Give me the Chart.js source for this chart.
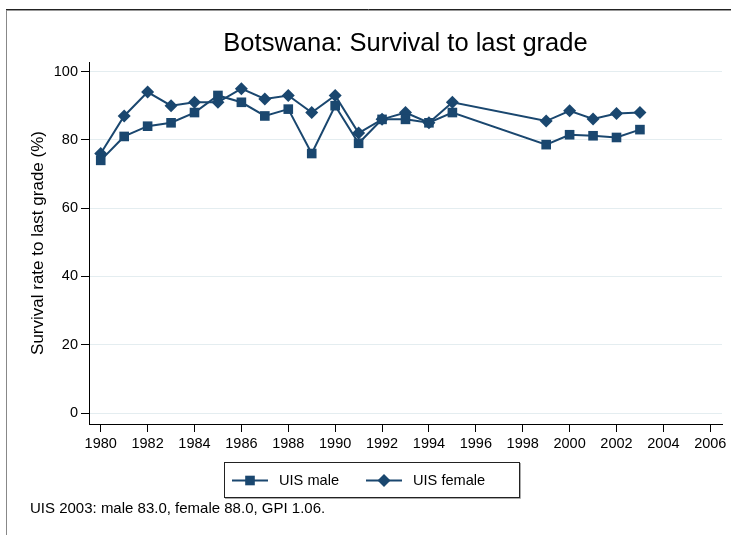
<!DOCTYPE html>
<html>
<head>
<meta charset="utf-8">
<script src="https://cdn.jsdelivr.net/npm/chart.js@4/dist/chart.umd.min.js"></script>
<style>
  html, body { margin: 0; padding: 0; background: #fff; }
  #wrap { width: 731px; height: 535px; }
</style>
</head>
<body>
<div id="wrap"><canvas id="chart" width="731" height="535"></canvas></div>
<script>
const years = [1980, 1981, 1982, 1983, 1984, 1985, 1986, 1987, 1988, 1989, 1990, 1991, 1992, 1993, 1994, 1995, 1999, 2000, 2001, 2002, 2003];
const maleValues = [74, 81, 84, 85, 88, 93, 91, 87, 89, 76, 90, 79, 86, 86, 85, 88, 78.6, 81.5, 81.2, 80.7, 83.0];
const femaleValues = [76, 87, 94, 90, 91, 91, 95, 92, 93, 88, 93, 82, 86, 88, 85, 91, 85.5, 88.5, 86.1, 87.7, 88.0];
const xTicks = [1980, 1982, 1984, 1986, 1988, 1990, 1992, 1994, 1996, 1998, 2000, 2002, 2004, 2006];
const yTicks = [0, 20, 40, 60, 80, 100];

const navy = '#1a476f';
const font = 'Liberation Sans, Arial, Helvetica, sans-serif';

const toPoints = vals => years.map((y, i) => ({ x: y, y: vals[i] }));

// frame, title, legend box and note are drawn by hand
const extras = {
  id: 'extras',
  afterDraw(chart) {
    const ctx = chart.ctx;
    const area = chart.chartArea;
    ctx.save();
    // outer frame
    ctx.strokeStyle = '#888';
    ctx.lineWidth = 1;
    ctx.beginPath();
    ctx.moveTo(6.5, 9);
    ctx.lineTo(6.5, 535);
    ctx.stroke();
    ctx.strokeStyle = '#222';
    ctx.beginPath();
    ctx.moveTo(6, 9.5);
    ctx.lineTo(731, 9.5);
    ctx.stroke();
    ctx.strokeStyle = '#999';
    ctx.beginPath();
    ctx.moveTo(7, 10.5);
    ctx.lineTo(731, 10.5);
    ctx.stroke();

    // title
    ctx.fillStyle = '#000';
    ctx.font = '25.5px ' + font;
    ctx.textAlign = 'center';
    ctx.textBaseline = 'middle';
    ctx.fillText('Botswana: Survival to last grade', (area.left + area.right) / 2, 44);

    // legend
    ctx.strokeStyle = '#222';
    ctx.strokeRect(224.5, 462.5, 295, 35);
    ctx.strokeStyle = '#aaa';
    ctx.beginPath();
    ctx.moveTo(225, 498.5);
    ctx.lineTo(520.5, 498.5);
    ctx.lineTo(520.5, 463);
    ctx.stroke();
    const items = [
      { x: 232, label: 'UIS male', ds: chart.data.datasets[0] },
      { x: 366, label: 'UIS female', ds: chart.data.datasets[1] }
    ];
    const ly = 480.5;
    items.forEach(it => {
      ctx.strokeStyle = navy;
      ctx.lineWidth = 2;
      ctx.beginPath();
      ctx.moveTo(it.x, ly);
      ctx.lineTo(it.x + 36, ly);
      ctx.stroke();
      ctx.fillStyle = navy;
      Chart.helpers.drawPoint(ctx, {
        pointStyle: it.ds.pointStyle,
        radius: it.ds.pointRadius,
        borderWidth: 0
      }, it.x + 18, ly);
      ctx.fillStyle = '#000';
      ctx.font = '14.6px ' + font;
      ctx.textAlign = 'left';
      ctx.fillText(it.label, it.x + 47, ly);
    });

    // note
    ctx.font = '15px ' + font;
    ctx.textAlign = 'left';
    ctx.fillText('UIS 2003: male 83.0, female 88.0, GPI 1.06.', 30, 509);
    ctx.restore();
  }
};

new Chart(document.getElementById('chart'), {
  type: 'line',
  data: {
    datasets: [
      {
        label: 'UIS male',
        data: toPoints(maleValues),
        borderColor: navy,
        backgroundColor: navy,
        borderWidth: 2,
        pointStyle: 'rect',
        pointRadius: 6.8,
        pointBorderWidth: 0,
        fill: false
      },
      {
        label: 'UIS female',
        data: toPoints(femaleValues),
        borderColor: navy,
        backgroundColor: navy,
        borderWidth: 2,
        pointStyle: 'rectRot',
        pointRadius: 6.5,
        pointBorderWidth: 0,
        fill: false
      }
    ]
  },
  options: {
    responsive: false,
    animation: false,
    layout: { padding: { left: 0, right: 9, top: 62, bottom: 76 } },
    plugins: {
      legend: { display: false },
      title: { display: false },
      tooltip: { enabled: false }
    },
    scales: {
      x: {
        type: 'linear',
        min: 1979.5,
        max: 2006.5,
        afterBuildTicks: scale => { scale.ticks = xTicks.map(v => ({ value: v })); },
        afterFit: scale => { scale.height = 35; },
        grid: { drawOnChartArea: false, drawTicks: true, tickLength: 8, tickColor: '#000' },
        border: { color: '#000', width: 1 },
        ticks: { color: '#000', font: { family: font, size: 14.5 }, padding: 3, maxRotation: 0, callback: v => String(v) }
      },
      y: {
        min: -3.2,
        max: 102.8,
        afterBuildTicks: scale => { scale.ticks = yTicks.map(v => ({ value: v })); },
        afterFit: scale => { scale.width = 89; },
        grid: { color: '#e4edf0', lineWidth: 1, drawTicks: true, tickLength: 8, tickColor: '#000' },
        border: { color: '#000', width: 1 },
        ticks: { color: '#000', font: { family: font, size: 14.5 }, padding: 3 },
        title: {
          display: true,
          text: 'Survival rate to last grade (%)',
          color: '#000',
          font: { family: font, size: 17 },
          padding: { top: 28, bottom: 0 }
        }
      }
    }
  },
  plugins: [extras]
});
</script>
</body>
</html>
